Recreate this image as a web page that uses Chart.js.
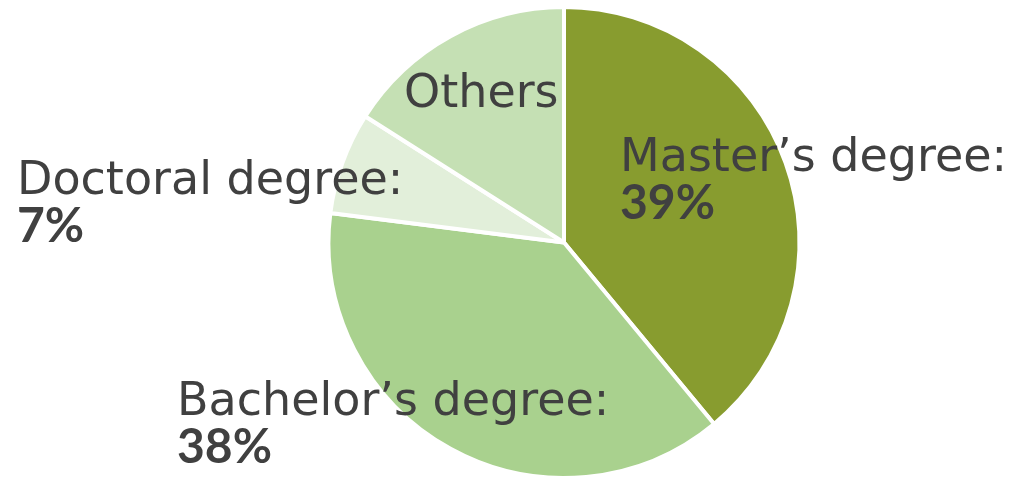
<!DOCTYPE html>
<html>
<head>
<meta charset="utf-8">
<script src="https://cdn.jsdelivr.net/npm/chart.js@4.4.1/dist/chart.umd.min.js"></script>
<style>
  html, body { margin: 0; padding: 0; background: #fff; overflow: hidden; }
  #wrap { width: 1015px; height: 480px; }
</style>
</head>
<body>
<div id="wrap"><canvas id="pie"></canvas></div>
<script>
const categories = ["Master\u2019s degree", "Bachelor\u2019s degree", "Doctoral degree", "Others"]
const shares = [39, 38, 7, 16]
const colors = ["#889C2F", "#A9D18E", "#E2EFDA", "#C5E0B4"]

// where the label text sits (left x, baseline y of first line)
const labelSpots = [
  {x: 620, y: 171, pct: true},
  {x: 177, y: 415, pct: true},
  {x: 17, y: 194, pct: true},
  {x: 404, y: 107, pct: false}
]

const labelPlugin = {
  id: 'sliceLabels',
  afterDraw(chart) {
    const ctx = chart.ctx
    ctx.save()
    ctx.fillStyle = '#404040'
    ctx.textAlign = 'left'
    ctx.textBaseline = 'alphabetic'
    categories.forEach((name, i) => {
      const s = labelSpots[i]
      ctx.font = '46px "DejaVu Sans"'
      if (s.pct) {
        ctx.fillText(name + ':', s.x, s.y)
        ctx.font = 'bold 48px Lato'
        ctx.fillText(shares[i] + '%', s.x, s.y + 48)
      } else {
        ctx.fillText(name, s.x, s.y)
      }
    })
    ctx.restore()
  }
}

new Chart('pie', {
  type: 'pie',
  data: {
    labels: categories,
    datasets: [{
      data: shares,
      backgroundColor: colors,
      borderColor: '#ffffff',
      borderWidth: 4
    }]
  },
  options: {
    responsive: true,
    maintainAspectRatio: false,
    animation: false,
    layout: { padding: { top: 5, left: 113, right: 0, bottom: 0 } },
    plugins: {
      legend: { display: false },
      tooltip: { enabled: false }
    }
  },
  plugins: [labelPlugin]
})
</script>
</body>
</html>
